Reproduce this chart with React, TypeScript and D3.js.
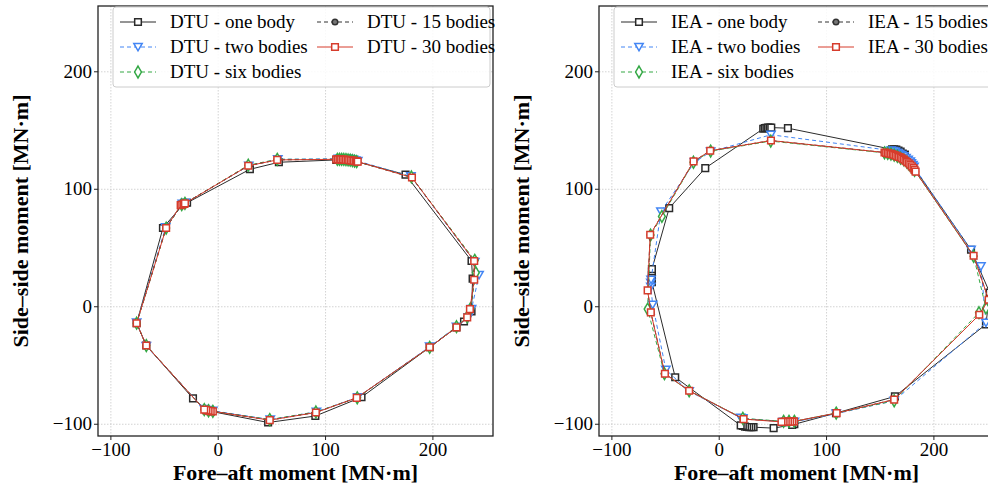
import React from "react";
import * as d3 from "d3";

type Pt = [number, number];

// Fore-aft / side-side moment loops, [x, y] in MN·m
const dtuOneBody: Pt[] = [
  [-76, -14], [-51.5, 67], [-32, 88], [-30.5, 88.3], [-29, 88.5], [29.5, 117], [56.5, 123],
  [110, 125], [112, 125], [114, 125], [116, 125], [118, 124.9], [120, 124.8], [122, 124.6],
  [124, 124.4], [126, 124.2], [174.5, 112.5],
  [236, 39], [237, 24], [236, -4], [229, -12.5], [222, -17.5], [197, -34.5],
  [133.5, -77], [90.5, -93], [46.5, -98.5], [-7, -89], [-11, -88],
  [-23.5, -78], [-67, -33],
];
const dtuTwoBodies: Pt[] = [
  [-76, -13.5], [-49, 67.5], [-33.5, 87.5], [-30.5, 88.5], [28.5, 120], [55.5, 125.5],
  [112, 126], [114, 126], [116, 126], [118, 126], [120, 125.8], [122, 125.6], [124, 125.3],
  [126, 125], [128, 124.5], [130, 124], [179.5, 111],
  [239, 38], [243, 27], [236, -2], [233, -9], [222, -17], [197, -34],
  [130, -77], [91.5, -89.5], [48.5, -96], [-5, -88.5], [-9, -88], [-13, -87], [-67, -33.5],
];
const dtuSixBodies: Pt[] = [
  [-76, -14], [-48.5, 67], [-34, 87], [-31, 88], [28, 120.5], [55, 125.5],
  [111, 125.5], [113, 125.5], [115, 125.5], [117, 125.4], [119, 125.3], [121, 125],
  [123, 124.8], [125, 124.4], [127, 124], [129, 123.6], [180, 110.5],
  [239, 39.5], [240, 29], [235, -1.5], [232, -8.5], [222, -17], [197, -34.5],
  [129.5, -77.5], [91, -89.5], [48, -96], [-5, -89], [-9, -88.5], [-13, -87.5], [-67, -33],
];
const dtuFifteenBodies: Pt[] = [
  [-76, -14], [-48.5, 67], [-34, 87], [-31, 88], [28, 120], [55, 125],
  [110, 125.5], [112, 125.5], [114, 125.5], [116, 125.3], [118, 125.2], [120, 125],
  [122, 124.8], [124, 124.5], [126, 124.2], [128, 123.8], [130, 123.5],
  [180.5, 110], [238.5, 39], [238.5, 23], [235, -2], [232, -9], [222, -17.5],
  [197, -34.5], [129, -77.5], [91, -90], [48, -96.5], [-5, -89], [-9, -88.5],
  [-13, -87.5], [-67, -33],
];
const dtuThirtyBodies: Pt[] = [
  [-76, -14], [-48.5, 67], [-35, 86.5], [-33.5, 87], [-32, 87.5], [-31, 88], [28, 120], [55, 125],
  [110, 125.5], [111.5, 125.5], [113, 125.5], [114.5, 125.4], [116, 125.3], [117.5, 125.2],
  [119, 125], [120.5, 124.9], [122, 124.8], [123.5, 124.6], [125, 124.4], [126.5, 124.2],
  [128, 124], [129, 123.8], [130, 123.5], [180.5, 110], [238.5, 39], [238.5, 23], [234.5, -2],
  [232, -9], [222, -17.5], [197, -34.5], [129, -77.5], [91, -90], [48, -96.5],
  [-5, -89], [-7, -88.8], [-9, -88.5], [-11, -88], [-13, -87.5], [-67, -33],
];

const ieaOneBody: Pt[] = [
  [-62.7, 21], [-62.7, 24], [-62.7, 27], [-62.7, 30], [-62.7, 32], [-46.6, 84], [-13, 118],
  [41, 151.5], [42.5, 152], [44, 152.3], [45.5, 152.5], [47, 152.5], [48.5, 152.5], [64, 152],
  [161, 134], [163, 134], [165, 133.8], [167, 133], [169, 132], [171, 130.5], [173, 129.5],
  [234.6, 48.5], [252, 12], [248.5, -15],
  [163.7, -76.3], [108.8, -90.5], [70, -100], [68, -100.5], [50.7, -103.3], [32, -102.5],
  [30, -102.5], [28, -102.5], [26, -102.3], [24, -102], [22, -101.5], [20, -101], [-41, -60],
];
const ieaTwoBodies: Pt[] = [
  [-63.7, 17], [-63.7, 20.4], [-63.5, 23], [-54.3, 81], [-23, 123], [-8, 132], [48.2, 146.4],
  [160, 133], [162, 132.6], [164, 132], [166, 131], [168, 130], [170, 129], [172, 128],
  [174, 126.5], [176, 125], [178, 123.5], [179, 122], [180.5, 120.5], [181.5, 119],
  [234.6, 48.5], [243.8, 34.3], [248.5, -13.6], [163, -80], [109, -91],
  [70, -98], [65, -98], [60, -98], [22, -95], [20, -94.5], [-28, -72], [-49.7, -53.6], [-62, 1.7],
];
const ieaSixBodies: Pt[] = [
  [-66.7, -2], [-64, 61], [-53.4, 76.9], [-24, 123], [-8, 132.5], [48, 141],
  [154, 131], [157, 130.5], [160, 130], [163, 129], [166, 128], [169, 126.5], [172, 125],
  [175, 123], [177, 121], [179.5, 118.5], [182, 116],
  [237, 43], [248.5, -1], [242, -5], [163, -80], [109, -90.5], [70, -97.5],
  [65, -97.5], [60, -97.5], [22, -95], [-28, -71.5], [-51, -57],
];
const ieaFifteenBodies: Pt[] = [
  [-66.7, 13.9], [-64.3, 61.3], [-23.9, 123.7], [-8.4, 132.8], [48.2, 141.5],
  [154, 131.3], [156, 131], [158, 130.5], [160, 130], [162, 129.5], [164, 128.8],
  [166, 128], [168, 127.3], [170, 126.5], [172, 125.3], [174, 124], [176, 122.5],
  [178, 121], [179.5, 119.5], [181, 118], [182, 116.5], [183, 115],
  [237, 43.4], [251, 6], [242.3, -6.8],
  [163, -79], [109.4, -90.5], [69.6, -97.6], [62, -97.8], [22.7, -95.6],
  [-28, -71.5], [-50.6, -57], [-63.7, -4.8],
];
const ieaThirtyBodies: Pt[] = [
  [-66.7, 13.9], [-64.3, 61.3], [-23.9, 123.7], [-8.4, 132.8], [48.2, 141.5],
  [154, 131.3], [155.5, 131], [157, 130.8], [158.5, 130.4], [160, 130], [161.5, 129.7],
  [163, 129.2], [164.5, 128.6], [166, 128], [167.5, 127.5], [169, 127], [170.5, 126.2],
  [172, 125.3], [173.5, 124.3], [175, 123.2], [176.5, 122.2], [178, 121], [179.5, 119.5],
  [181, 118], [182, 116.5], [183, 115], [237, 43.4], [251, 6], [242.3, -6.8],
  [163, -79], [109.4, -90.5], [69.6, -97.6], [68, -97.7], [66, -97.8], [64, -97.8],
  [62, -97.8], [60, -97.9], [58, -98],
  [22.7, -95.6], [-28, -71.5], [-50.6, -57], [-63.7, -4.8],
];

const xTicks = [-100, 0, 100, 200];
const yTicks = [-100, 0, 100, 200];
const seriesNames = ["one body", "two bodies", "six bodies", "15 bodies", "30 bodies"];

const styles = [
  { color: "#2b2b2b", dash: null, symbol: d3.symbolSquare, fill: "#fff", size: 44 },
  { color: "#4285f4", dash: "4,3", symbol: "tri", fill: "#fff", size: 40 },
  { color: "#34a845", dash: "4,3", symbol: d3.symbolDiamond, fill: "#fff", size: 40 },
  { color: "#333", dash: "4,3", symbol: d3.symbolCircle, fill: "#777", size: 24 },
  { color: "#d63c2c", dash: null, symbol: d3.symbolSquare, fill: "#fff", size: 44 },
];

const FONT = "'Liberation Serif', 'DejaVu Serif', serif";

const Marker = ({ s, x, y }: { s: any; x: number; y: number }) => {
  if (s.symbol === "tri") {
    return (
      <path d="M-4.2,-3.6L4.2,-3.6L0,3.8Z" transform={`translate(${x},${y})`}
        fill={s.fill} stroke={s.color} strokeWidth={1.5} />
    );
  }
  const d = d3.symbol().type(s.symbol).size(s.size)();
  return (
    <path d={d || ""} transform={`translate(${x},${y})`}
      fill={s.fill} stroke={s.color} strokeWidth={1.5} />
  );
};

const Panel = ({ left, prefix, series, legendW }: { left: number; prefix: string; series: Pt[][]; legendW: number }) => {
  const top = 6, w = 395, h = 430;
  const x = d3.scaleLinear().domain([-112, 256]).range([left, left + w]);
  const y = d3.scaleLinear().domain([-110, 256]).range([top + h, top]);
  const line = d3.line<Pt>().x((d) => x(d[0])).y((d) => y(d[1])).curve(d3.curveLinearClosed);
  const clipId = `clip-${prefix}`;

  const legendRows = [
    { i: 0, col: 0, row: 0 }, { i: 1, col: 0, row: 1 }, { i: 2, col: 0, row: 2 },
    { i: 3, col: 1, row: 0 }, { i: 4, col: 1, row: 1 },
  ];
  const lx = left + 15;

  return (
    <g>
      <defs>
        <clipPath id={clipId}>
          <rect x={left} y={top} width={w} height={h} />
        </clipPath>
      </defs>
      {xTicks.map((t) => (
        <line key={`gx${t}`} x1={x(t)} x2={x(t)} y1={top} y2={top + h}
          stroke="#c8c8c8" strokeWidth={0.8} strokeDasharray="1.5,1.5" />
      ))}
      {yTicks.map((t) => (
        <line key={`gy${t}`} x1={left} x2={left + w} y1={y(t)} y2={y(t)}
          stroke="#c8c8c8" strokeWidth={0.8} strokeDasharray="1.5,1.5" />
      ))}
      <g clipPath={`url(#${clipId})`}>
        {series.map((data, i) => (
          <g key={i}>
            <path d={line(data) || ""} fill="none" stroke={styles[i].color}
              strokeWidth={1} strokeDasharray={styles[i].dash || undefined} />
            {data.map((p, j) => (
              <Marker key={j} s={styles[i]} x={x(p[0])} y={y(p[1])} />
            ))}
          </g>
        ))}
      </g>
      <rect x={left} y={top} width={w} height={h} fill="none" stroke="#222" strokeWidth={1.3} />
      {xTicks.map((t) => (
        <g key={`tx${t}`}>
          <line x1={x(t)} x2={x(t)} y1={top + h} y2={top + h + 4} stroke="#222" />
          <text x={x(t)} y={top + h + 20} textAnchor="middle" fontSize={19} fontFamily={FONT}>
            {t < 0 ? `\u2212${-t}` : t}
          </text>
        </g>
      ))}
      {yTicks.map((t) => (
        <g key={`ty${t}`}>
          <line x1={left - 4} x2={left} y1={y(t)} y2={y(t)} stroke="#222" />
          <text x={left - 6} y={y(t) + 6} textAnchor="end" fontSize={19} fontFamily={FONT}>
            {t < 0 ? `\u2212${-t}` : t}
          </text>
        </g>
      ))}
      <text x={left + w / 2} y={480} textAnchor="middle" fontSize={22} fontWeight="bold" fontFamily={FONT}>
        Fore–aft moment [MN·m]
      </text>
      <text transform={`translate(${left - 70},${top + h / 2}) rotate(-90)`} textAnchor="middle"
        fontSize={22} fontWeight="bold" fontFamily={FONT}>
        Side–side moment [MN·m]
      </text>
      <rect x={left + 15} y={7} width={legendW} height={80} rx={3} fill="#fff" fillOpacity={0.85}
        stroke="#ccc" strokeWidth={1} />
      {legendRows.map(({ i, col, row }) => {
        const hx = lx + 7 + col * 197;
        const hy = 22 + row * 25;
        const s = styles[i];
        return (
          <g key={`lg${i}`}>
            <line x1={hx} x2={hx + 36} y1={hy} y2={hy} stroke={s.color} strokeWidth={1}
              strokeDasharray={s.dash || undefined} />
            <Marker s={s} x={hx + 18} y={hy} />
            <text x={hx + 50} y={hy + 6} fontSize={19} fontFamily={FONT}>
              {`${prefix} - ${seriesNames[i]}`}
            </text>
          </g>
        );
      })}
    </g>
  );
};

export default function App() {
  return (
    <svg width={988} height={486} style={{ position: "absolute", left: 0, top: 0, background: "#fff" }}>
      <rect width={988} height={486} fill="#fff" />
      <Panel left={98} prefix="DTU" legendW={377}
        series={[dtuOneBody, dtuTwoBodies, dtuSixBodies, dtuFifteenBodies, dtuThirtyBodies]} />
      <Panel left={599} prefix="IEA" legendW={377}
        series={[ieaOneBody, ieaTwoBodies, ieaSixBodies, ieaFifteenBodies, ieaThirtyBodies]} />
    </svg>
  );
}
